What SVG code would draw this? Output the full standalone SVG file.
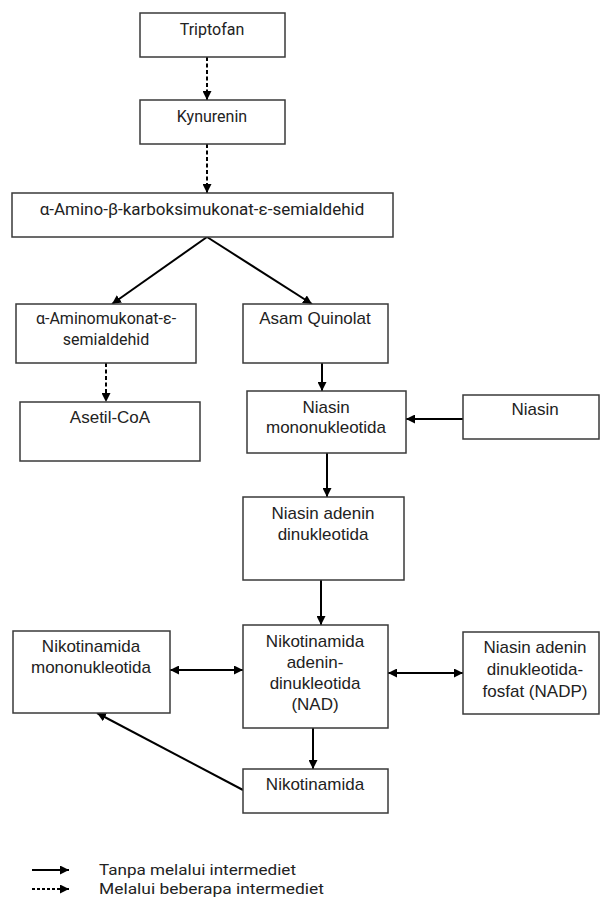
<svg xmlns="http://www.w3.org/2000/svg" width="600" height="899" viewBox="0 0 600 899">
<style>
.box{fill:#fff;stroke:#3a3a3a;stroke-width:1.5}
.t{font-family:"Liberation Sans",Arial,sans-serif;font-size:17px;fill:#222;text-anchor:middle}
.r{font-family:Roboto,"Liberation Sans",sans-serif;font-size:16px;fill:#222;text-anchor:middle}
.lg{font-family:Roboto,"Liberation Sans",sans-serif;font-size:15.5px;fill:#222}
.c{fill:none;stroke:#000;stroke-width:2}
.d{stroke-dasharray:4 2.5}
</style>
<defs>
<marker id="ah" viewBox="0 0 10 10" refX="10" refY="5" markerWidth="9" markerHeight="9" markerUnits="userSpaceOnUse" orient="auto-start-reverse">
<path d="M0,0 L10,5 L0,10 z" fill="#000"/>
</marker>
</defs>
<rect width="600" height="899" fill="#fff"/>
<g id="connectors">
<line class="c d" x1="207" y1="57" x2="207" y2="100" marker-end="url(#ah)"/>
<line class="c d" x1="207" y1="144" x2="207" y2="193" marker-end="url(#ah)"/>
<line class="c" x1="207" y1="237" x2="112" y2="304" marker-end="url(#ah)"/>
<line class="c" x1="207" y1="237" x2="312" y2="304" marker-end="url(#ah)"/>
<line class="c d" x1="106" y1="363" x2="106" y2="402" marker-end="url(#ah)"/>
<line class="c" x1="322" y1="363" x2="322" y2="391" marker-end="url(#ah)"/>
<line class="c" x1="463" y1="419" x2="406" y2="419" marker-end="url(#ah)"/>
<line class="c" x1="327" y1="453" x2="327" y2="497" marker-end="url(#ah)"/>
<line class="c" x1="321" y1="580" x2="321" y2="625" marker-end="url(#ah)"/>
<line class="c" x1="170" y1="670" x2="243" y2="670" marker-start="url(#ah)" marker-end="url(#ah)"/>
<line class="c" x1="388" y1="673" x2="463" y2="673" marker-start="url(#ah)" marker-end="url(#ah)"/>
<line class="c" x1="313" y1="728" x2="313" y2="769" marker-end="url(#ah)"/>
<line class="c" x1="243" y1="790" x2="97" y2="713" marker-end="url(#ah)"/>
</g>
<g id="triptofan"><rect class="box" x="140" y="13" width="145" height="44"/><text class="r" x="212" y="35">Triptofan</text></g>
<g id="kynurenin"><rect class="box" x="140" y="100" width="145" height="44"/><text class="r" x="212" y="122">Kynurenin</text></g>
<g id="amino-karboksi"><rect class="box" x="12" y="193" width="381" height="44"/><text class="r" x="202" y="215" style="font-size:17px">α-Amino-β-karboksimukonat-ε-semialdehid</text></g>
<g id="aminomukonat"><rect class="box" x="16" y="304" width="180" height="59"/><text class="r" x="106" y="324">α-Aminomukonat-ε-</text><text class="r" x="106" y="345">semialdehid</text></g>
<g id="asetil-coa"><rect class="box" x="20" y="402" width="180" height="59"/><text class="t" x="110" y="423">Asetil-CoA</text></g>
<g id="asam-quinolat"><rect class="box" x="243" y="304" width="145" height="59"/><text class="t" x="315" y="324">Asam Quinolat</text></g>
<g id="niasin-mono"><rect class="box" x="247" y="391" width="159" height="62"/><text class="t" x="326" y="413">Niasin</text><text class="t" x="326" y="433">mononukleotida</text></g>
<g id="niasin"><rect class="box" x="463" y="395" width="136" height="44"/><text class="t" x="535" y="415">Niasin</text></g>
<g id="niasin-adenin"><rect class="box" x="243" y="497" width="161" height="83"/><text class="t" x="323" y="519">Niasin adenin</text><text class="t" x="323" y="540">dinukleotida</text></g>
<g id="nmn"><rect class="box" x="13" y="631" width="157" height="82"/><text class="t" x="91" y="652">Nikotinamida</text><text class="t" x="91" y="673">mononukleotida</text></g>
<g id="nad"><rect class="box" x="243" y="625" width="145" height="103"/><text class="t" x="315" y="647">Nikotinamida</text><text class="t" x="315" y="668">adenin-</text><text class="t" x="315" y="689">dinukleotida</text><text class="t" x="315" y="710">(NAD)</text></g>
<g id="nadp"><rect class="box" x="463" y="632" width="136" height="82"/><text class="t" x="535" y="653">Niasin adenin</text><text class="t" x="535" y="675">dinukleotida-</text><text class="t" x="535" y="697">fosfat (NADP)</text></g>
<g id="nikotinamida"><rect class="box" x="243" y="769" width="145" height="44"/><text class="t" x="315" y="790">Nikotinamida</text></g>
<g id="legend">
<line class="c" x1="32" y1="870" x2="69" y2="870" stroke-width="2.5" marker-end="url(#ah)"/>
<line class="c" x1="32" y1="889" x2="69" y2="889" stroke-width="2.5" stroke-dasharray="3 2" marker-end="url(#ah)"/>
<text class="lg" x="99" y="875" textLength="197" lengthAdjust="spacingAndGlyphs">Tanpa melalui intermediet</text>
<text class="lg" x="99" y="894" textLength="225" lengthAdjust="spacingAndGlyphs">Melalui beberapa intermediet</text>
</g>
</svg>
